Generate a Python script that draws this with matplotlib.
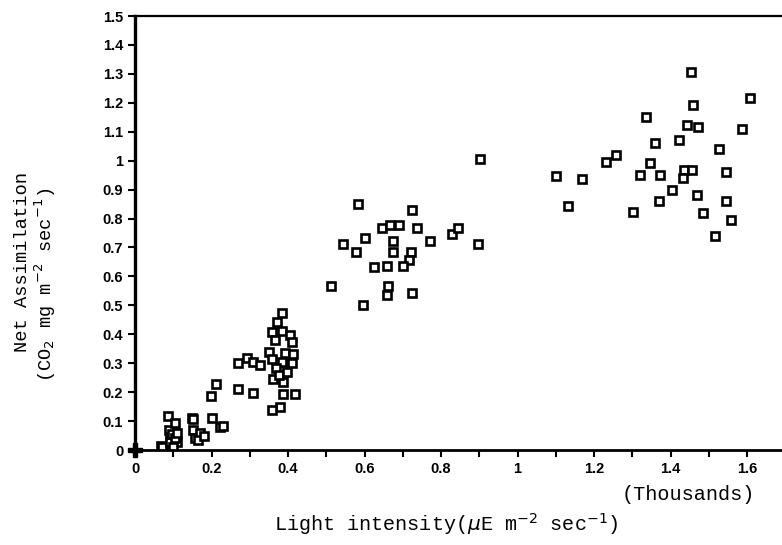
import numpy as np
import matplotlib
matplotlib.use('Agg')
import matplotlib.pyplot as plt
from matplotlib.ticker import MultipleLocator, FuncFormatter

# light intensity (thousands of uE m-2 sec-1)
light = [0.0,
	0.068, 0.070, 0.087, 0.090, 0.092, 0.092, 0.096, 0.105, 0.109, 0.095, 0.100, 0.105, 0.110,
	0.148, 0.151, 0.152, 0.157, 0.170, 0.165, 0.180, 0.200, 0.222, 0.229, 0.198, 0.212,
	0.270, 0.292, 0.308, 0.327, 0.270, 0.308,
	0.384, 0.370, 0.357, 0.384, 0.366, 0.405, 0.410, 0.351, 0.392, 0.414, 0.410, 0.384,
	0.357, 0.369, 0.362, 0.388, 0.386, 0.418, 0.379, 0.357, 0.376, 0.398,
	0.584, 0.725, 0.645, 0.667, 0.690, 0.738, 0.601, 0.545, 0.578, 0.674, 0.675, 0.721,
	0.717, 0.771, 0.625, 0.658, 0.701, 0.512, 0.662, 0.660, 0.725, 0.597, 0.828, 0.845,
	0.898, 0.902,
	1.453, 1.608, 1.460, 1.335, 1.442, 1.473, 1.586, 1.359, 1.423, 1.528, 1.258, 1.231,
	1.346, 1.435, 1.457, 1.545, 1.101, 1.168, 1.320, 1.373, 1.432, 1.403, 1.133, 1.370,
	1.468, 1.544, 1.303, 1.484, 1.558, 1.516]

# net assimilation (CO2 mg m-2 sec-1)
assim = [0.0,
	0.015, 0.011, 0.116, 0.069, 0.046, 0.029, 0.055, 0.093, 0.029, 0.000, 0.010, 0.040, 0.060,
	0.110, 0.107, 0.069, 0.041, 0.058, 0.035, 0.050, 0.112, 0.081, 0.084, 0.185, 0.229,
	0.299, 0.318, 0.303, 0.295, 0.211, 0.197,
	0.472, 0.442, 0.407, 0.411, 0.380, 0.396, 0.373, 0.338, 0.336, 0.333, 0.299, 0.303,
	0.313, 0.285, 0.245, 0.234, 0.194, 0.194, 0.148, 0.139, 0.260, 0.270,
	0.851, 0.830, 0.766, 0.778, 0.778, 0.766, 0.732, 0.712, 0.685, 0.723, 0.683, 0.685,
	0.656, 0.723, 0.631, 0.637, 0.637, 0.567, 0.567, 0.536, 0.544, 0.501, 0.747, 0.767,
	0.712, 1.007,
	1.306, 1.218, 1.192, 1.152, 1.123, 1.115, 1.111, 1.061, 1.073, 1.042, 1.018, 0.995,
	0.992, 0.969, 0.969, 0.961, 0.946, 0.935, 0.951, 0.949, 0.940, 0.897, 0.845, 0.859,
	0.880, 0.860, 0.822, 0.818, 0.795, 0.741]

fig = plt.figure(figsize=(7.82, 5.45), dpi=100)
ax = fig.add_axes([135/782, 1 - 450/545, 646/782, 434/545])

ax.plot(light[1:], assim[1:], ls='none', marker='s', ms=5.5, mfc='white', mec='black', mew=1.9)
ax.plot(light[0], assim[0], ls='none', marker='P', ms=10, color='black', clip_on=False)

ax.set_xlim(0, 646/382.5)
ax.set_ylim(0, 1.5)
ax.spines['right'].set_visible(False)
ax.spines['left'].set_linewidth(2.4)
ax.spines['bottom'].set_linewidth(2.0)
ax.spines['top'].set_linewidth(1.6)

fmt = FuncFormatter(lambda v, p: '%g' % round(v, 2))
ax.xaxis.set_major_locator(MultipleLocator(0.2))
ax.xaxis.set_minor_locator(MultipleLocator(0.1))
ax.yaxis.set_major_locator(MultipleLocator(0.1))
ax.xaxis.set_major_formatter(fmt)
ax.yaxis.set_major_formatter(fmt)
ax.tick_params(which='both', direction='out', length=5, width=1.5, color='black')
ax.tick_params(labelsize=10.5)
for lab in ax.get_xticklabels() + ax.get_yticklabels():
	lab.set_fontweight('bold')
	lab.set_family('Liberation Sans')

mono = 'Liberation Mono'
fig.text(23/782, 1 - 262/545, 'Net Assimilation', rotation=90, ha='center', va='center',
	family=mono, fontsize=13.5)
fig.text(45/782, 1 - 285/545, r'(CO$_2$ mg m$^{-2}$ sec$^{-1}$)', rotation=90, ha='center',
	va='center', family=mono, fontsize=13.5)
fig.text(755/782, 1 - 494/545, '(Thousands)', ha='right', va='center', family=mono, fontsize=14.5)
fig.text(446/782, 1 - 524/545, r'Light intensity($\mu$E m$^{-2}$ sec$^{-1}$)', ha='center',
	va='center', family=mono, fontsize=14.5)

fig.savefig('out.png', dpi=100)
